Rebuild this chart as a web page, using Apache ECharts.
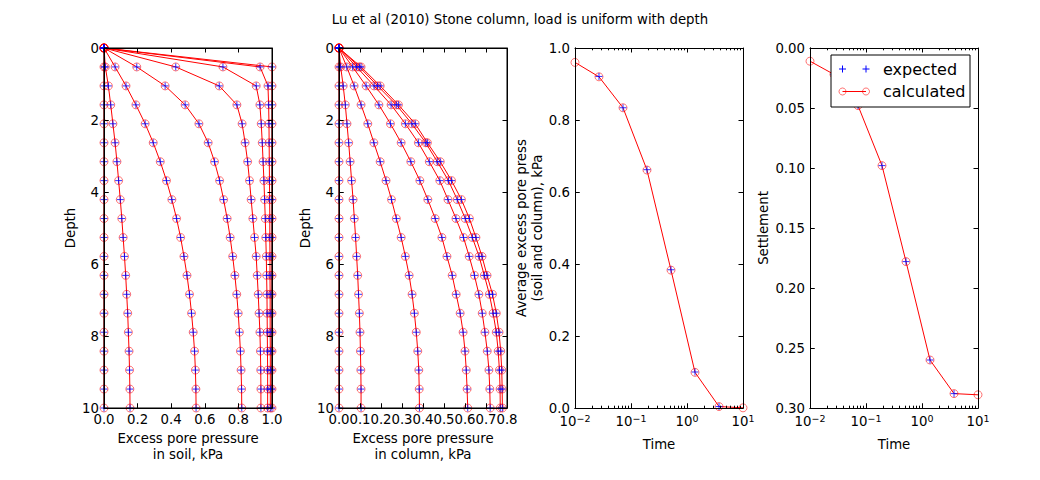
<!DOCTYPE html>
<html><head><meta charset="utf-8">
<script src="https://cdn.jsdelivr.net/npm/echarts@6/dist/echarts.min.js"></script>
<style>html,body{margin:0;padding:0;background:#fff}#c{width:1040px;height:480px}</style>
</head><body><div id="c"></div>
<script>
// ---------- data ----------
const depth = [0, 0.526, 1.053, 1.579, 2.105, 2.632, 3.158, 3.684, 4.211, 4.737, 5.263, 5.789, 6.316, 6.842, 7.368, 7.895, 8.421, 8.947, 9.474, 10];

// excess pore pressure in soil (one array per time)
const soilH = [0, 1.0, 1.0, 1.0, 1.0, 1.0, 1.0, 1.0, 1.0, 1.0, 1.0, 1.0, 1.0, 1.0, 1.0, 1.0, 1.0, 1.0, 1.0, 1.0];
const soilG = [0, 0.929, 0.976, 0.980, 0.982, 0.983, 0.984, 0.985, 0.986, 0.987, 0.987, 0.988, 0.988, 0.989, 0.989, 0.989, 0.990, 0.990, 0.990, 0.990];
const soilF = [0, 0.708, 0.906, 0.928, 0.936, 0.942, 0.947, 0.952, 0.956, 0.960, 0.963, 0.966, 0.968, 0.970, 0.971, 0.972, 0.973, 0.974, 0.974, 0.974];
const soilE = [0, 0.427, 0.686, 0.791, 0.822, 0.840, 0.855, 0.866, 0.876, 0.886, 0.896, 0.906, 0.912, 0.918, 0.923, 0.928, 0.931, 0.933, 0.934, 0.934];
const soilD = [0, 0.195, 0.364, 0.483, 0.565, 0.620, 0.658, 0.688, 0.712, 0.733, 0.751, 0.766, 0.779, 0.790, 0.799, 0.806, 0.812, 0.816, 0.819, 0.820];
const soilC = [0, 0.066, 0.131, 0.190, 0.245, 0.293, 0.335, 0.372, 0.404, 0.432, 0.456, 0.476, 0.494, 0.509, 0.521, 0.531, 0.539, 0.544, 0.547, 0.548];
const soilB = [0, 0.008, 0.026, 0.040, 0.053, 0.066, 0.077, 0.087, 0.097, 0.106, 0.114, 0.122, 0.129, 0.135, 0.141, 0.145, 0.149, 0.152, 0.154, 0.155];
const soilA = [0, 0, 0, 0, 0, 0, 0, 0, 0, 0, 0, 0, 0, 0, 0, 0, 0, 0, 0, 0];

// excess pore pressure in column
const colG = [0, 0.105, 0.196, 0.283, 0.363, 0.421, 0.482, 0.536, 0.583, 0.621, 0.652, 0.681, 0.705, 0.731, 0.749, 0.762, 0.770, 0.775, 0.777, 0.778];
const colF = [0, 0.097, 0.184, 0.273, 0.347, 0.413, 0.468, 0.521, 0.563, 0.601, 0.635, 0.667, 0.692, 0.716, 0.734, 0.749, 0.758, 0.764, 0.767, 0.768];
const colE = [0, 0.084, 0.167, 0.248, 0.316, 0.378, 0.430, 0.480, 0.519, 0.557, 0.593, 0.620, 0.645, 0.666, 0.682, 0.695, 0.706, 0.714, 0.718, 0.720];
const colD = [0, 0.065, 0.129, 0.190, 0.245, 0.296, 0.342, 0.385, 0.423, 0.458, 0.490, 0.514, 0.539, 0.558, 0.577, 0.591, 0.600, 0.606, 0.610, 0.613];
const colC = [0, 0.037, 0.072, 0.105, 0.137, 0.166, 0.196, 0.224, 0.250, 0.273, 0.296, 0.316, 0.334, 0.348, 0.359, 0.368, 0.375, 0.380, 0.382, 0.383];
const colB = [0, 0.008, 0.020, 0.030, 0.038, 0.046, 0.053, 0.060, 0.067, 0.073, 0.079, 0.084, 0.089, 0.093, 0.097, 0.100, 0.102, 0.104, 0.105, 0.105];
const colA = [0, 0, 0, 0, 0, 0, 0, 0, 0, 0, 0, 0, 0, 0, 0, 0, 0, 0, 0, 0];

// time histories
const time = [0.01, 0.0268, 0.072, 0.193, 0.518, 1.39, 3.73, 10];
const avgPP = [0.960, 0.920, 0.834, 0.661, 0.383, 0.099, 0.004, 0.0005];
const settle = [0.011, 0.022, 0.048, 0.098, 0.178, 0.260, 0.288, 0.289];
const expTime = [0.0268, 0.072, 0.193, 0.518, 1.39, 3.73];
const expAvgPP = [0.921, 0.834, 0.662, 0.384, 0.100, 0.004];
const expSettle = [0.022, 0.048, 0.098, 0.178, 0.260, 0.288];

// tick values
const soilTicks = {min: 0, max: 1, interval: 0.2};
const colTicks = {min: 0, max: 0.8, interval: 0.1};
const depthTicks = {min: 0, max: 10, interval: 2};
const ppTicks = {min: 0, max: 1, interval: 0.2};
const settleTicks = {min: 0, max: 0.3, interval: 0.05};
const logMajor = [0.01, 0.1, 1, 10];
const logMinor = [0.02,0.03,0.04,0.05,0.06,0.07,0.08,0.09,0.2,0.3,0.4,0.5,0.6,0.7,0.8,0.9,2,3,4,5,6,7,8,9];

const soilCurves = [soilH, soilG, soilF, soilE, soilD, soilC, soilB, soilA];
const colCurves = [colG, colF, colE, colD, colC, colB, colA];

// ---------- chart ----------
const FONT = 'DejaVu Sans';
const FS = 13.3;
const lefts = [104, 339, 575, 810];
const W = 168, TOP = 48, H = 360;
// grids 0-3: data panels; grids 4-7: identical overlays that carry only the frame and tick marks
const grids = lefts.concat(lefts).map(l => ({left: l, top: TOP, width: W, height: H, show: false}));

function base(extra) {
  return Object.assign({
    z: 10,
    axisLine: {show: true, onZero: false, lineStyle: {color: '#000', width: 1}}, splitLine: {show: false},
    axisTick: {show: true, inside: true, length: 4.5, lineStyle: {color: '#000', width: 1}},
    axisLabel: {color: '#000', fontSize: FS, fontFamily: FONT, margin: 5},
    nameTextStyle: {color: '#000', fontSize: FS, fontFamily: FONT, lineHeight: 15.5}
  }, extra);
}
function frameAxis(extra) {
  return Object.assign({
    z: 10,
    axisLine: {show: true, onZero: false, lineStyle: {color: '#000', width: 1}}, splitLine: {show: false},
    axisTick: {show: true, inside: true, length: 4.5, lineStyle: {color: '#000', width: 1}},
    axisLabel: {show: false}
  }, extra);
}
const fix = n => v => v.toFixed(n);
const logFmt = v => { const e = Math.round(Math.log10(v)); return '{b|10}{s|' + (e < 0 ? '\u2212' + (-e) : e) + '}'; };
const logRich = {b: {fontSize: FS, fontFamily: FONT, color: '#000', lineHeight: 17}, s: {fontSize: 9.5, fontFamily: FONT, color: '#000', verticalAlign: 'top', lineHeight: 11}};

// labelled axes (grids 0-3)
const xAxes = [
  base(Object.assign({type: 'value', gridIndex: 0, position: 'bottom', name: 'Excess pore pressure\nin soil, kPa', nameLocation: 'middle', nameGap: 21}, soilTicks)),
  base(Object.assign({type: 'value', gridIndex: 1, position: 'bottom', name: 'Excess pore pressure\nin column, kPa', nameLocation: 'middle', nameGap: 21}, colTicks)),
  base({type: 'log', logBase: 10, gridIndex: 2, min: 0.01, max: 10, position: 'bottom', name: 'Time', nameLocation: 'middle', nameGap: 29}),
  base({type: 'log', logBase: 10, gridIndex: 3, min: 0.01, max: 10, position: 'bottom', name: 'Time', nameLocation: 'middle', nameGap: 29})
];
xAxes[0].axisLabel = Object.assign({}, xAxes[0].axisLabel, {formatter: fix(1)});
xAxes[1].axisLabel = Object.assign({}, xAxes[1].axisLabel, {formatter: fix(1)});
[2, 3].forEach(i => {
  xAxes[i].axisLabel = Object.assign({}, xAxes[i].axisLabel, {formatter: logFmt, rich: logRich, customValues: logMajor});
  xAxes[i].axisTick = Object.assign({}, xAxes[i].axisTick, {customValues: logMajor});
});
const yAxes = [
  base(Object.assign({type: 'value', gridIndex: 0, position: 'left', inverse: true, name: 'Depth', nameLocation: 'middle', nameGap: 23}, depthTicks)),
  base(Object.assign({type: 'value', gridIndex: 1, position: 'left', inverse: true, name: 'Depth', nameLocation: 'middle', nameGap: 23}, depthTicks)),
  base(Object.assign({type: 'value', gridIndex: 2, position: 'left', inverse: false, name: 'Average excess pore press\n(soil and column), kPa', nameLocation: 'middle', nameGap: 26}, ppTicks)),
  base(Object.assign({type: 'value', gridIndex: 3, position: 'left', inverse: true, name: 'Settlement', nameLocation: 'middle', nameGap: 37}, settleTicks))
];
yAxes[2].axisLabel = Object.assign({}, yAxes[2].axisLabel, {formatter: fix(1)});
yAxes[3].axisLabel = Object.assign({}, yAxes[3].axisLabel, {formatter: fix(2)});

// frame/tick overlays (grids 4-7)
const xTickSets = [soilTicks, colTicks];
[0, 1].forEach(g => {
  xAxes.push(frameAxis(Object.assign({type: 'value', gridIndex: 4 + g, position: 'bottom'}, xTickSets[g])));
  xAxes.push(frameAxis(Object.assign({type: 'value', gridIndex: 4 + g, position: 'top'}, xTickSets[g])));
});
[2, 3].forEach(g => {
  const common = {type: 'log', logBase: 10, gridIndex: 4 + g, min: 0.01, max: 10};
  ['bottom', 'top'].forEach(p => {
    const a = frameAxis(Object.assign({position: p}, common));
    a.axisTick = Object.assign({}, a.axisTick, {customValues: logMajor});
    xAxes.push(a);
    const m = frameAxis(Object.assign({position: p}, common));
    m.axisLine = {show: false, onZero: false};
    m.axisTick = {show: true, inside: true, length: 2.3, lineStyle: {color: '#000', width: 1}, customValues: logMinor};
    xAxes.push(m);
  });
});
const yTickSets = [[depthTicks, true], [depthTicks, true], [ppTicks, false], [settleTicks, true]];
yTickSets.forEach((s, g) => {
  ['left', 'right'].forEach(p => yAxes.push(frameAxis(Object.assign({type: 'value', gridIndex: 4 + g, position: p, inverse: s[1]}, s[0]))));
});

const PLUS = 'path://M5,0L5,10M0,5L10,5';
function calcSeries(xi, yi, data) {
  return {type: 'line', xAxisIndex: xi, yAxisIndex: yi, data: data, showSymbol: true, symbol: 'circle', symbolSize: 8,
    lineStyle: {color: '#ff0000', width: 1}, itemStyle: {color: 'rgba(0,0,0,0)', borderColor: 'rgba(255,0,0,0.55)', borderWidth: 1},
    z: 2, animation: false};
}
function expSeries(xi, yi, data) {
  return {type: 'scatter', xAxisIndex: xi, yAxisIndex: yi, data: data, symbol: PLUS, symbolSize: 7,
    itemStyle: {color: '#0000ff', borderColor: '#0000ff', borderWidth: 1},
    z: 3, animation: false};
}
// panel outline for the two depth panels, traced along the axis extents
function frameSeries(xi, yi, xt, yt) {
  return {type: 'line', xAxisIndex: xi, yAxisIndex: yi, clip: false, symbol: 'none', silent: true, z: 9, animation: false,
    lineStyle: {color: '#000', width: 1},
    data: [[xt.min, yt.min], [xt.max, yt.min], [xt.max, yt.max], [xt.min, yt.max], [xt.min, yt.min]]};
}

const series = [];
soilCurves.forEach(c => { const d = depth.map((z, i) => [c[i], z]); series.push(calcSeries(0, 0, d)); series.push(expSeries(0, 0, d)); });
colCurves.forEach(c => { const d = depth.map((z, i) => [c[i], z]); series.push(calcSeries(1, 1, d)); series.push(expSeries(1, 1, d)); });
series.push(calcSeries(2, 2, time.map((t, i) => [t, avgPP[i]])));
series.push(expSeries(2, 2, expTime.map((t, i) => [t, expAvgPP[i]])));
series.push(calcSeries(3, 3, time.map((t, i) => [t, settle[i]])));
series.push(expSeries(3, 3, expTime.map((t, i) => [t, expSettle[i]])));
series.push(frameSeries(0, 0, soilTicks, depthTicks));
series.push(frameSeries(1, 1, colTicks, depthTicks));

// legend (drawn in the settlement panel, upper right)
const LX = 831, LY = 55, LW = 139, LH = 52, r1 = 69, r2 = 91.5, m1 = 842.5, m2 = 866;
const legend = [
  {type: 'rect', shape: {x: LX, y: LY, width: LW, height: LH}, style: {fill: '#fff', stroke: '#000', lineWidth: 1}, z: 100},
  {type: 'line', shape: {x1: m1 - 3.5, y1: r1, x2: m1 + 3.5, y2: r1}, style: {stroke: '#0000ff', lineWidth: 1}, z: 101},
  {type: 'line', shape: {x1: m1, y1: r1 - 3.5, x2: m1, y2: r1 + 3.5}, style: {stroke: '#0000ff', lineWidth: 1}, z: 101},
  {type: 'line', shape: {x1: m2 - 3.5, y1: r1, x2: m2 + 3.5, y2: r1}, style: {stroke: '#0000ff', lineWidth: 1}, z: 101},
  {type: 'line', shape: {x1: m2, y1: r1 - 3.5, x2: m2, y2: r1 + 3.5}, style: {stroke: '#0000ff', lineWidth: 1}, z: 101},
  {type: 'line', shape: {x1: m1, y1: r2, x2: m2, y2: r2}, style: {stroke: '#ff0000', lineWidth: 1}, z: 101},
  {type: 'circle', shape: {cx: m1, cy: r2, r: 3.5}, style: {fill: 'none', stroke: 'rgba(255,0,0,0.55)', lineWidth: 1}, z: 102},
  {type: 'circle', shape: {cx: m2, cy: r2, r: 3.5}, style: {fill: 'none', stroke: 'rgba(255,0,0,0.55)', lineWidth: 1}, z: 102},
  {type: 'text', x: 883, y: r1, style: {text: 'expected', fontSize: 16, fontFamily: FONT, fill: '#000', textVerticalAlign: 'middle', verticalAlign: 'middle'}, z: 101},
  {type: 'text', x: 883, y: r2, style: {text: 'calculated', fontSize: 16, fontFamily: FONT, fill: '#000', textVerticalAlign: 'middle', verticalAlign: 'middle'}, z: 101}
];

const chart = echarts.init(document.getElementById('c'), null, {renderer: 'svg'});
chart.setOption({
  backgroundColor: '#fff',
  animation: false,
  title: {text: 'Lu et al (2010) Stone column, load is uniform with depth', left: 'center', top: 8,
    textStyle: {fontSize: FS, fontWeight: 'normal', fontFamily: FONT, color: '#000'}},
  grid: grids,
  xAxis: xAxes,
  yAxis: yAxes,
  series: series,
  graphic: legend
});
</script></body></html>
